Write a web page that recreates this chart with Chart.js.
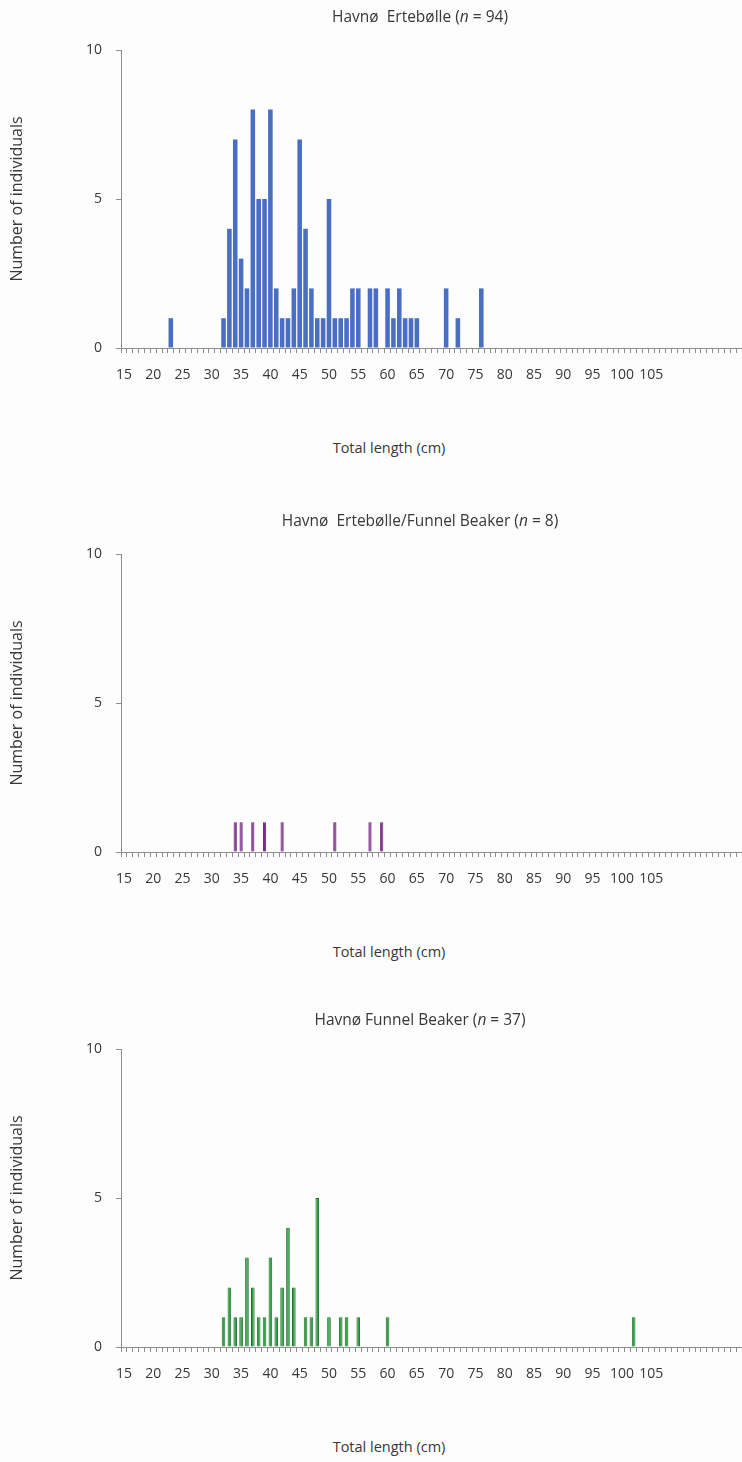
<!DOCTYPE html>
<html lang="da">
<head>
  <meta charset="UTF-8" />
  <title>Havnø - Total length</title>
  <script src="https://cdn.jsdelivr.net/npm/chart.js"></script>
  <style>
    body {
      margin: 0;
      background: #fdfdfd;
      font-family: "Open Sans", sans-serif;
      color: #383838;
      width: 742px;
      height: 1462px;
      overflow: hidden;
      position: relative;
    }
    .panel {
      position: absolute;
      left: 0;
      width: 742px;
      height: 480px;
      overflow: hidden;
    }
    .title {
      position: absolute;
      left: 170px;
      width: 500px;
      text-align: center;
      font-size: 15.5px;
      line-height: 20px;
    }
    .xtitle {
      position: absolute;
      top: 438px;
      left: 189px;
      width: 400px;
      text-align: center;
      font-size: 14.5px;
      line-height: 20px;
    }
    .chartbox {
      position: absolute;
      top: 0;
      left: 0;
      width: 742px;
      height: 400px;
    }
  </style>
</head>
<body>
  <div class="panel" style="top:0px">
    <div class="chartbox"><canvas id="c1" width="742" height="400"></canvas></div>
    <div class="title" style="top:6px">Havnø&nbsp; Ertebølle (<i>n</i> = 94)</div>
    <div class="xtitle">Total length (cm)</div>
  </div>
  <div class="panel" style="top:504px">
    <div class="chartbox"><canvas id="c2" width="742" height="400"></canvas></div>
    <div class="title" style="top:6px">Havnø&nbsp; Ertebølle/Funnel Beaker (<i>n</i> = 8)</div>
    <div class="xtitle">Total length (cm)</div>
  </div>
  <div class="panel" style="top:999px">
    <div class="chartbox"><canvas id="c3" width="742" height="400"></canvas></div>
    <div class="title" style="top:10px">Havnø Funnel Beaker (<i>n</i> = 37)</div>
    <div class="xtitle">Total length (cm)</div>
  </div>

  <script>
    // total length categories (cm)
    const lengths = [
      15, 16, 17, 18, 19, 20, 21, 22, 23, 24, 25, 26, 27, 28, 29, 30, 31, 32, 33, 34,
      35, 36, 37, 38, 39, 40, 41, 42, 43, 44, 45, 46, 47, 48, 49, 50, 51, 52, 53, 54,
      55, 56, 57, 58, 59, 60, 61, 62, 63, 64, 65, 66, 67, 68, 69, 70, 71, 72, 73, 74,
      75, 76, 77, 78, 79, 80, 81, 82, 83, 84, 85, 86, 87, 88, 89, 90, 91, 92, 93, 94,
      95, 96, 97, 98, 99, 100, 101, 102, 103, 104, 105, 106, 107, 108, 109, 110, 111, 112, 113, 114,
      115, 116, 117, 118, 119, 120
    ];
    const labelledLengths = [15, 20, 25, 30, 35, 40, 45, 50, 55, 60, 65, 70, 75, 80, 85, 90, 95, 100, 105];
    const yTicks = [0, 5, 10];

    // Havnø Ertebølle (n = 94)
    const erteLengths = [23, 32, 33, 34, 35, 36, 37, 38, 39, 40, 41, 42, 43, 44, 45, 46, 47, 48, 49, 50,
                         51, 52, 53, 54, 55, 57, 58, 60, 61, 62, 63, 64, 65, 70, 72, 76];
    const erteCounts  = [1, 1, 4, 7, 3, 2, 8, 5, 5, 8, 2, 1, 1, 2, 7, 4, 2, 1, 1, 5,
                         1, 1, 1, 2, 2, 2, 2, 2, 1, 2, 1, 1, 1, 2, 1, 2];

    // Havnø Ertebølle/Funnel Beaker (n = 8)
    const mixLengths = [34, 35, 37, 39, 42, 51, 57, 59];
    const mixCounts  = [1, 1, 1, 1, 1, 1, 1, 1];

    // Havnø Funnel Beaker (n = 37)
    const tragtLengths = [32, 33, 34, 35, 36, 37, 38, 39, 40, 41, 42, 43, 44, 46, 47, 48, 50, 52, 53, 55, 60, 102];
    const tragtCounts  = [1, 2, 1, 1, 3, 2, 1, 1, 3, 1, 2, 4, 2, 1, 1, 5, 1, 1, 1, 1, 1, 1];

    const FONT = '"Open Sans", sans-serif';
    const AXIS = '#8e8e8e';
    const TEXT = '#383838';

    function toSeries(ls, cs) {
      return lengths.map(l => {
        const i = ls.indexOf(l);
        return i >= 0 ? cs[i] : 0;
      });
    }

    function makeChart(id, ls, cs, fill, border, bw, barPct) {
      return new Chart(document.getElementById(id), {
        type: 'bar',
        data: {
          labels: lengths,
          datasets: [{
            data: toSeries(ls, cs),
            backgroundColor: fill,
            borderColor: border,
            borderWidth: bw,
            barPercentage: barPct,
            categoryPercentage: 1
          }]
        },
        options: {
          responsive: false,
          animation: false,
          layout: { padding: { top: 50, right: 0, left: 0, bottom: 0 } },
          plugins: {
            legend: { display: false },
            tooltip: { enabled: false }
          },
          scales: {
            x: {
              offset: true,
              grid: { offset: true, drawOnChartArea: false, drawTicks: true, tickLength: 5, color: AXIS },
              border: { color: AXIS, width: 1 },
              ticks: {
                autoSkip: false,
                maxRotation: 0,
                minRotation: 0,
                padding: 14,
                color: TEXT,
                font: { family: FONT, size: 14 },
                callback: (v, i) => labelledLengths.includes(lengths[i]) ? String(lengths[i]) : ''
              },
              afterFit: s => { s.height = 52; s.paddingLeft = 0; s.paddingRight = 0; }
            },
            y: {
              min: 0,
              max: 10,
              afterBuildTicks: s => { s.ticks = yTicks.map(v => ({ value: v })); },
              grid: { drawOnChartArea: false, drawTicks: true, tickLength: 5, color: AXIS },
              border: { color: AXIS, width: 1 },
              ticks: { padding: 14, color: TEXT, font: { family: FONT, size: 14 } },
              title: {
                display: true,
                text: 'Number of individuals',
                color: TEXT,
                font: { family: FONT, size: 16 },
                padding: { top: 8, bottom: 0 }
              },
              afterFit: s => { s.width = 121; }
            }
          }
        }
      });
    }

    makeChart('c1', erteLengths, erteCounts, '#4a6fc2', '#4a6fc2', 0, 0.78);
    makeChart('c2', mixLengths, mixCounts, '#7a2c8c', '#6a2178', 1, 0.55);
    makeChart('c3', tragtLengths, tragtCounts, '#33a146', '#1f6d2c', 1, 0.62);
  </script>
</body>
</html>
